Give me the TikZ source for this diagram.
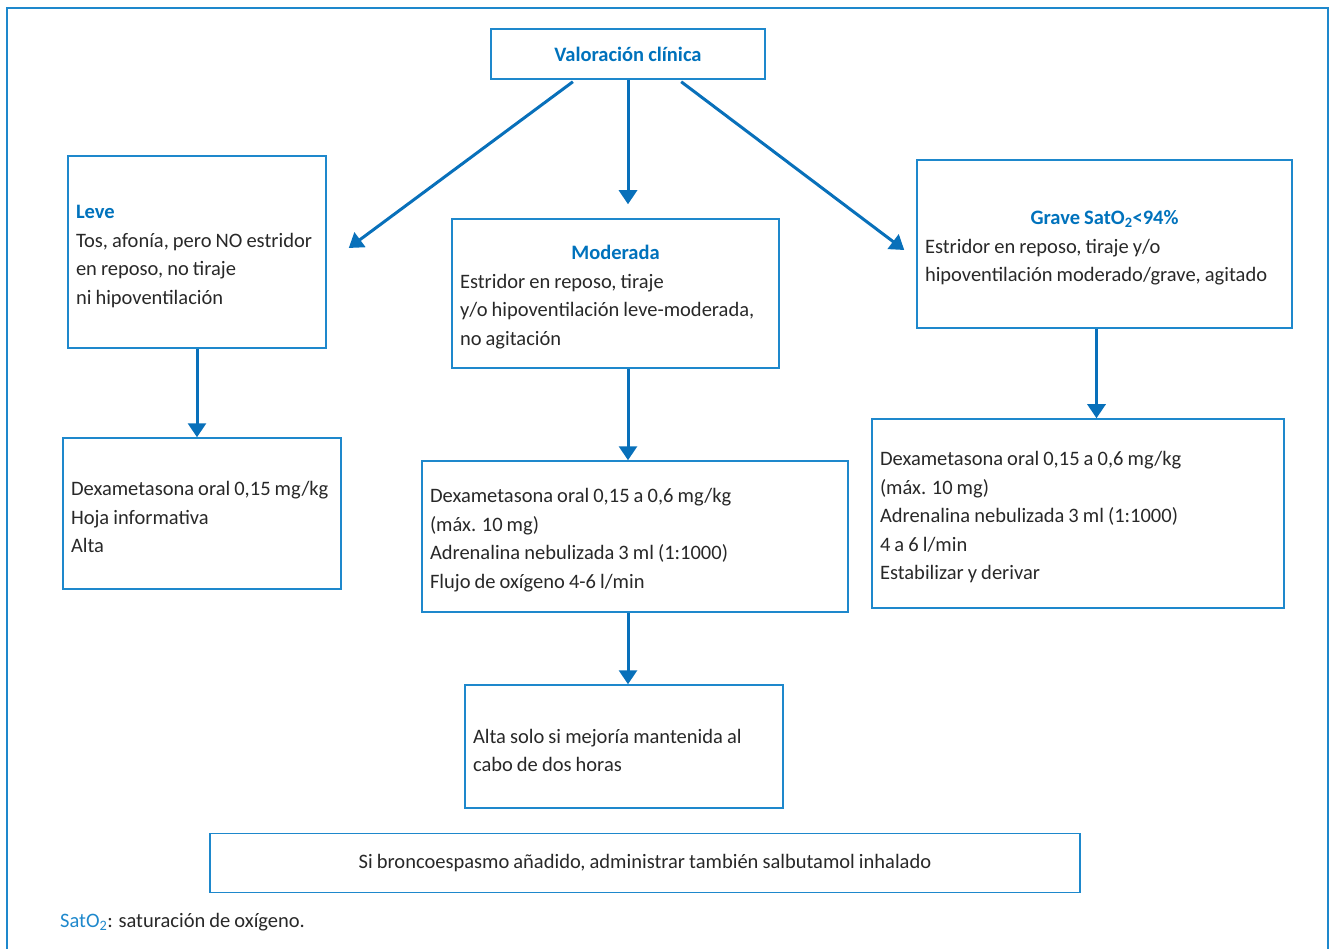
\documentclass[tikz,border=0pt]{standalone}
\usepackage{fontspec}
\setmainfont{Carlito}[WordSpace=0.88]
\usetikzlibrary{arrows.meta,calc}
\definecolor{boxblue}{RGB}{30,136,204}
\definecolor{arrowblue}{RGB}{8,112,186}
\definecolor{headblue}{RGB}{0,114,188}
\definecolor{txtgray}{RGB}{40,40,40}
\tikzset{
  box/.style={draw=boxblue, line width=1.5pt, rectangle, inner xsep=8pt, inner ysep=0pt,
    align=flush left, text=txtgray, font=\fontsize{20.5}{28.5}\selectfont},
  shifted/.style={execute at begin node={\rule{0pt}{22pt}}},
  arr/.style={draw=arrowblue, line width=3pt, -{Triangle[width=18pt,length=14pt]}},
}
\newcommand{\hd}[1]{\textcolor{headblue}{\textbf{#1}}}
\newcommand{\chd}[1]{\hspace*{\fill}\textcolor{headblue}{\textbf{#1}}\hspace*{\fill}\mbox{}}
\begin{document}
\begin{tikzpicture}[x=1pt,y=-1pt]
\useasboundingbox (0,0) rectangle (1336,949);
\draw[boxblue, line width=1.5pt] (7,949) -- (7,8) -- (1328,8) -- (1328,949);

\node[box, align=flush center, minimum width=274pt, minimum height=50pt, text width=258pt] (title) at (628,54) {\hd{Valoración clínica}};

\node[box, shifted, minimum width=258pt, minimum height=192pt, text width=242pt] (leve) at (197,252)
  {\hd{Leve}\\Tos, afonía, pero NO estridor\\en reposo, no tiraje\\ni hipoventilación};
\node[box, shifted, minimum width=327pt, minimum height=149pt, text width=311pt] (mod) at (615.5,293.5)
  {\chd{Moderada}\\Estridor en reposo, tiraje\\y/o hipoventilación leve-moderada,\\no agitación};
\node[box, shifted, minimum width=375pt, minimum height=168pt, text width=359pt] (grave) at (1104.5,244)
  {\chd{Grave SatO\textsubscript{2}<94\%}\\Estridor en reposo, tiraje y/o\\hipoventilación moderado/grave, agitado};

\node[box, shifted, minimum width=278pt, minimum height=151pt, text width=262pt] (tleve) at (202,513.5)
  {Dexametasona oral 0,15 mg/kg\\Hoja informativa\\Alta};
\node[box, shifted, minimum width=426pt, minimum height=151pt, text width=410pt] (tmod) at (635,536.5)
  {Dexametasona oral 0,15 a 0,6 mg/kg\\(máx. 10 mg)\\Adrenalina nebulizada 3 ml (1:1000)\\Flujo de oxígeno 4-6 l/min};
\node[box, shifted, minimum width=412pt, minimum height=189pt, text width=396pt] (tgrave) at (1078,513.5)
  {Dexametasona oral 0,15 a 0,6 mg/kg\\(máx. 10 mg)\\Adrenalina nebulizada 3 ml (1:1000)\\4 a 6 l/min\\Estabilizar y derivar};
\node[box, shifted, minimum width=318pt, minimum height=123pt, text width=302pt] (alta) at (624,746.5)
  {Alta solo si mejoría mantenida al\\cabo de dos horas};
\node[box, align=flush center, minimum width=870pt, minimum height=59pt, text width=854pt] (note) at (645,863)
  {Si broncoespasmo añadido, administrar también salbutamol inhalado};

\node[anchor=west, inner sep=0pt, text=txtgray, font=\fontsize{20.5}{24}\selectfont] (foot) at (60,922)
  {\textcolor{boxblue}{SatO\textsubscript{2}}: saturación de oxígeno.};

% arrows
\coordinate (lstart) at ($(title.south west)!0.3!(title.south east)+(0,2)$);
\coordinate (rstart) at ($(title.south west)!0.693!(title.south east)+(0,2)$);
\coordinate (lend) at ($(leve.east)+(22,-4)$);
\coordinate (rend) at ($(grave.west)+(-12,6)$);
\coordinate (mend) at ($(mod.north -| title.south)+(0,-14)$);
\draw[arr] (lstart) -- (lend);
\draw[arr] (rstart) -- (rend);
\draw[arr] (title.south) -- (mend);
\draw[arr] (leve.south) -- (leve.south |- tleve.north);
\draw[arr] (mod.south -| title.south) -- (tmod.north -| title.south);
\draw[arr] (tmod.south -| title.south) -- (alta.north -| title.south);
\coordinate (gs) at ($(grave.south)+(-8,0)$);
\draw[arr] (gs) -- (gs |- tgrave.north);
\end{tikzpicture}
\end{document}
